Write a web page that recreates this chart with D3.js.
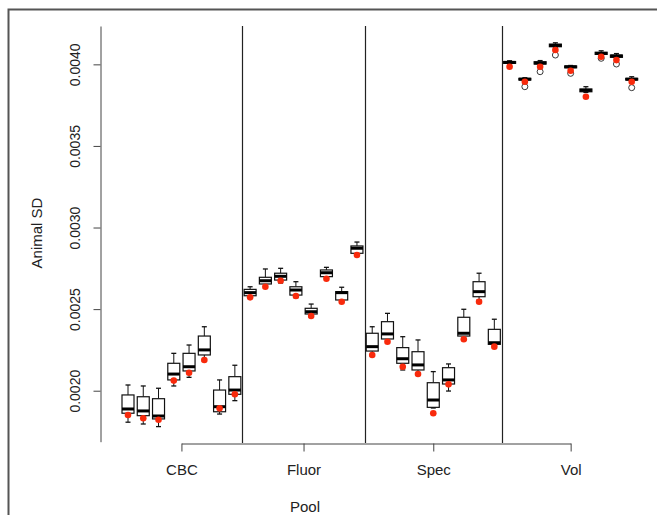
<!DOCTYPE html>
<html>
<head>
<meta charset="utf-8">
<script src="https://cdn.jsdelivr.net/npm/d3@7"></script>
<style>
  body { margin: 0; background: #fff; }
  text { font-family: "Liberation Sans", Arial, sans-serif; fill: #222; }
</style>
</head>
<body>
<div id="chart"></div>
<script>
// groups and how many boxes each one has
var pools = ["CBC", "Fluor", "Spec", "Vol"];
var boxCounts = [8, 8, 9, 9];

// box stats (one entry per box, left to right)
var whiskLow = [0.001807, 0.001796, 0.00178, 0.002029, 0.002082, 0.00218, 0.001857, 0.001939,
  0.002568, 0.00263, 0.00266, 0.00257, 0.002452, 0.002684, 0.002543, 0.002832,
  0.002213, 0.002292, 0.002127, 0.002096, 0.001894, 0.001998, 0.002311, 0.002556, 0.002274,
  0.004002, 0.003898, 0.004002, 0.004104, 0.003976, 0.003828, 0.004058, 0.00404, 0.003898];
var q1 = [0.001862, 0.001847, 0.001827, 0.002066, 0.002121, 0.002219, 0.001871, 0.001978,
  0.002582, 0.002654, 0.002678, 0.002586, 0.00247, 0.002699, 0.002556, 0.002842,
  0.002243, 0.002317, 0.002168, 0.002127, 0.001898, 0.002041, 0.002335, 0.002576, 0.002284,
  0.004006, 0.003904, 0.004002, 0.004108, 0.003979, 0.003832, 0.004061, 0.004043, 0.003904];
var medians = [0.001888, 0.001876, 0.001845, 0.002102, 0.002147, 0.00225, 0.001902, 0.002004,
  0.002601, 0.002674, 0.002701, 0.002617, 0.002484, 0.002723, 0.002601, 0.002873,
  0.00227, 0.002348, 0.002196, 0.002158, 0.001943, 0.002066, 0.002352, 0.002607, 0.002294,
  0.004012, 0.003909, 0.004008, 0.004116, 0.003985, 0.003841, 0.004067, 0.004051, 0.003909];
var q3 = [0.001974, 0.001963, 0.001951, 0.002168, 0.002229, 0.002335, 0.002004, 0.002086,
  0.002621, 0.002695, 0.00272, 0.002637, 0.002505, 0.00274, 0.002607, 0.002887,
  0.002352, 0.002423, 0.002264, 0.002239, 0.002049, 0.002141, 0.00245, 0.002668, 0.002376,
  0.004017, 0.003914, 0.004016, 0.004124, 0.00399, 0.003849, 0.004074, 0.004057, 0.003914];
var whiskHigh = [0.002035, 0.002029, 0.002015, 0.002229, 0.00228, 0.002392, 0.002066, 0.002156,
  0.002637, 0.002746, 0.00275, 0.002668, 0.002531, 0.002756, 0.002634, 0.002911,
  0.002392, 0.002474, 0.002331, 0.002311, 0.002117, 0.002164, 0.002499, 0.00272, 0.002438,
  0.004022, 0.003918, 0.004023, 0.004132, 0.003993, 0.003863, 0.004083, 0.004066, 0.003924];
var means = [0.001851, 0.001831, 0.001822, 0.002062, 0.00211, 0.002188, 0.001892, 0.001978,
  0.002572, 0.002637, 0.002674, 0.00258, 0.002458, 0.002686, 0.002545, 0.002832,
  0.002219, 0.0023, 0.002147, 0.002102, 0.001862, 0.002039, 0.002315, 0.002545, 0.00227,
  0.003985, 0.003893, 0.003985, 0.004088, 0.003961, 0.003801, 0.004047, 0.004026, 0.003893];
// open-circle outliers: [box index, value]
var outliers = [[26, 0.003863], [27, 0.003955], [28, 0.004057], [29, 0.003945],
  [31, 0.004037], [32, 0.004002], [33, 0.003857]];

var width = 657, height = 515;
var nBoxes = d3.sum(boxCounts);

var svg = d3.select("#chart").append("svg")
  .attr("width", width).attr("height", height);

// frame (only top and left edges are in the picture)
svg.append("path")
  .attr("d", "M8.5,515 V9.5 H657")
  .attr("fill", "none").attr("stroke", "#555").attr("stroke-width", 2);

var x = d3.scaleLinear().domain([0, nBoxes - 1]).range([128, 631.7]);
var y = d3.scaleLinear().domain([0.0016875, 0.004235]).range([441.7, 26]);

// group centres and separators
var centers = [], seps = [];
var acc = 0;
boxCounts.forEach(function(c, i) {
  centers.push(acc + (c - 1) / 2);
  if (i > 0) seps.push(acc - 0.5);
  acc += c;
});

var axisY = 443;

// separators between pools
svg.append("g").selectAll("line").data(seps).enter().append("line")
  .attr("x1", function(d) { return Math.round(x(d)) + 0.5; })
  .attr("x2", function(d) { return Math.round(x(d)) + 0.5; })
  .attr("y1", 26).attr("y2", axisY)
  .attr("stroke", "#222").attr("stroke-width", 1.2);

// y axis
var yAxis = svg.append("g")
  .attr("transform", "translate(100.5,0)")
  .call(d3.axisLeft(y)
    .tickValues([0.002, 0.0025, 0.003, 0.0035, 0.004])
    .tickFormat(d3.format(".4f"))
    .tickSize(7).tickSizeOuter(0));
yAxis.select(".domain").attr("stroke", "#444");
yAxis.selectAll(".tick line").attr("stroke", "#444");
yAxis.selectAll(".tick text")
  .attr("font-size", 14)
  .attr("fill", "#222")
  .attr("transform", "rotate(-90)")
  .attr("x", 0).attr("y", -25)
  .attr("dy", "0.35em")
  .attr("text-anchor", "middle");

// x axis: line only spans first to last pool tick
var xg = d3.scaleLinear()
  .domain([centers[0], centers[centers.length - 1]])
  .range([x(centers[0]), x(centers[centers.length - 1])]);
var xAxis = svg.append("g")
  .attr("transform", "translate(0," + (axisY + 0.5) + ")")
  .call(d3.axisBottom(xg)
    .tickValues(centers)
    .tickFormat(function(d, i) { return pools[i]; })
    .tickSize(8).tickSizeOuter(0));
xAxis.select(".domain").attr("stroke", "#444");
xAxis.selectAll(".tick line").attr("stroke", "#444");
xAxis.selectAll(".tick text")
  .attr("font-size", 15).attr("fill", "#222").attr("y", 21);

// axis titles
svg.append("text")
  .attr("transform", "translate(42,233) rotate(-90)")
  .attr("text-anchor", "middle")
  .attr("font-size", 15)
  .text("Animal SD");
svg.append("text")
  .attr("x", 305).attr("y", 512)
  .attr("text-anchor", "middle")
  .attr("font-size", 15)
  .text("Pool");

// boxes
var boxData = d3.range(nBoxes).map(function(i) {
  return { i: i, lo: whiskLow[i], q1: q1[i], med: medians[i], q3: q3[i], hi: whiskHigh[i], mean: means[i] };
});
var boxW = 12, capW = 5;

var g = svg.append("g").selectAll("g").data(boxData).enter().append("g");

g.append("line")
  .attr("x1", function(d) { return x(d.i); }).attr("x2", function(d) { return x(d.i); })
  .attr("y1", function(d) { return y(d.hi); }).attr("y2", function(d) { return y(d.q3); })
  .attr("stroke", "#111").attr("stroke-width", 1);
g.append("line")
  .attr("x1", function(d) { return x(d.i); }).attr("x2", function(d) { return x(d.i); })
  .attr("y1", function(d) { return y(d.q1); }).attr("y2", function(d) { return y(d.lo); })
  .attr("stroke", "#111").attr("stroke-width", 1);
g.append("line")
  .attr("x1", function(d) { return x(d.i) - capW / 2; }).attr("x2", function(d) { return x(d.i) + capW / 2; })
  .attr("y1", function(d) { return y(d.hi); }).attr("y2", function(d) { return y(d.hi); })
  .attr("stroke", "#111").attr("stroke-width", 1.3);
g.append("line")
  .attr("x1", function(d) { return x(d.i) - capW / 2; }).attr("x2", function(d) { return x(d.i) + capW / 2; })
  .attr("y1", function(d) { return y(d.lo); }).attr("y2", function(d) { return y(d.lo); })
  .attr("stroke", "#111").attr("stroke-width", 1.3);
g.append("rect")
  .attr("x", function(d) { return x(d.i) - boxW / 2; })
  .attr("y", function(d) { return y(d.q3); })
  .attr("width", boxW)
  .attr("height", function(d) { return Math.max(1, y(d.q1) - y(d.q3)); })
  .attr("fill", "#fff").attr("stroke", "#111").attr("stroke-width", 1.2);
g.append("line")
  .attr("x1", function(d) { return x(d.i) - boxW / 2; }).attr("x2", function(d) { return x(d.i) + boxW / 2; })
  .attr("y1", function(d) { return y(d.med); }).attr("y2", function(d) { return y(d.med); })
  .attr("stroke", "#000").attr("stroke-width", 3);

// outliers
svg.append("g").selectAll("circle").data(outliers).enter().append("circle")
  .attr("cx", function(d) { return x(d[0]); })
  .attr("cy", function(d) { return y(d[1]); })
  .attr("r", 3)
  .attr("fill", "none").attr("stroke", "#222").attr("stroke-width", 0.9);

// means
svg.append("g").selectAll("circle").data(boxData).enter().append("circle")
  .attr("cx", function(d) { return x(d.i); })
  .attr("cy", function(d) { return y(d.mean); })
  .attr("r", 3.3)
  .attr("fill", "#f82a0c");
</script>
</body>
</html>
